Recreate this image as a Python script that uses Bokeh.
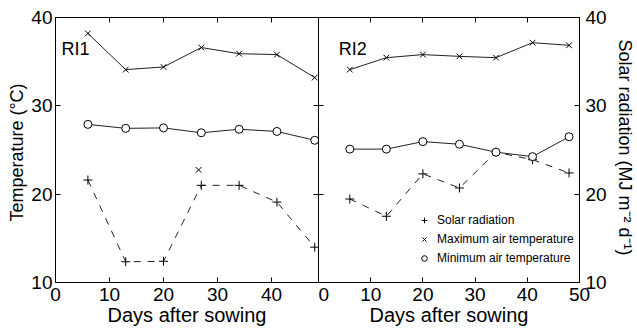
from bokeh.plotting import figure
from bokeh.models import LinearAxis, Range1d, FixedTicker, Label, Legend, LegendItem
from bokeh.layouts import row
from bokeh.embed import file_html
from bokeh.resources import INLINE

days = [6, 13, 20, 27, 34, 41, 48]

# RI1
ri1_max = [38.2, 34.1, 34.4, 36.6, 35.9, 35.8, 33.2]
ri1_min = [27.9, 27.45, 27.5, 26.95, 27.35, 27.1, 26.1]
ri1_solar = [21.6, 12.35, 12.4, 21.0, 21.0, 19.1, 14.0]
ri1_stray_x = [26.5]
ri1_stray_y = [22.75]

# RI2
ri2_max = [34.1, 35.45, 35.8, 35.6, 35.45, 37.15, 36.85]
ri2_min = [25.1, 25.1, 25.95, 25.65, 24.75, 24.25, 26.5]
ri2_solar = [19.45, 17.5, 22.3, 20.7, 24.75, 23.9, 22.4]

x_ticks = [0, 10, 20, 30, 40, 50]
y_ticks = [10, 20, 30, 40]

FONT = "Liberation Sans"
TICK_FS = "19px"
LC = "#222222"


def style_axis(ax, labels=True):
    ax.ticker = FixedTicker(ticks=y_ticks if ax.dimension == 1 else x_ticks)
    ax.major_tick_in = 5
    ax.major_tick_out = 0
    ax.minor_tick_in = 0
    ax.minor_tick_out = 0
    ax.axis_line_color = "black"
    ax.axis_line_width = 1
    ax.major_tick_line_color = "black"
    ax.major_label_text_font = FONT
    ax.axis_label_text_font = FONT
    ax.axis_label_text_font_style = "normal"
    ax.axis_label_text_color = "black"
    if labels:
        ax.major_label_text_color = "black"
        ax.major_label_text_font_size = TICK_FS
    else:
        ax.major_label_text_color = None
        ax.major_label_text_font_size = "1px"
        ax.major_label_standoff = 0


def make_panel(xmax, width, mb_left, mb_right):
    p = figure(width=width, height=330, output_backend="svg", toolbar_location=None,
               x_range=Range1d(0, xmax), y_range=Range1d(10, 40),
               min_border_left=mb_left, min_border_right=mb_right,
               min_border_top=17, min_border_bottom=48)
    p.grid.visible = False
    p.background_fill_color = "white"
    p.border_fill_color = "white"
    xa = p.xaxis[0]
    style_axis(xa, True)
    xa.axis_label = "Days after sowing"
    xa.axis_label_text_font_size = "20px"
    xa.major_label_standoff = 5
    xa.axis_label_standoff = 0
    top = LinearAxis()
    p.add_layout(top, "above")
    style_axis(top, False)
    right = LinearAxis()
    p.add_layout(right, "right")
    return p, right


def draw(p, mx, mn, sol):
    p.line(days, mx, line_color=LC, line_width=1)
    p.line(days, mn, line_color=LC, line_width=1)
    p.line(days, sol, line_color=LC, line_width=1, line_dash="7 7")
    r_sol = p.scatter(days, sol, marker="cross", size=9, line_color="black", line_width=1)
    r_max = p.scatter(days, mx, marker="x", size=8, line_color="black", line_width=1)
    r_min = p.scatter(days, mn, marker="circle", size=8, line_color="black",
                      fill_color="white", line_width=1)
    return r_sol, r_max, r_min


# ---- left panel (RI1) ----
p1, r1 = make_panel(48.7, 318, 55, 0)
p1.outline_line_color = None
ya1 = p1.yaxis[0]
style_axis(ya1, True)
ya1.axis_label = "Temperature  (°C)"
ya1.axis_label_text_font_size = "18px"
ya1.major_label_standoff = 3
ya1.axis_label_standoff = 1
style_axis(r1, False)
r1.axis_line_color = None
draw(p1, ri1_max, ri1_min, ri1_solar)
p1.scatter(ri1_stray_x, ri1_stray_y, marker="x", size=8, line_color="black", line_width=1)
p1.add_layout(Label(x=1.1, y=36.4, text="RI1", text_font=FONT, text_font_size="18px",
                    text_baseline="middle", text_color="black"))

# ---- right panel (RI2) ----
p2, r2 = make_panel(50, 319, 0, 52)
p2.outline_line_color = "black"
ya2 = p2.yaxis[0]
style_axis(ya2, False)
style_axis(r2, True)
r2.axis_label = "Solar radiation  (MJ m⁻² d⁻¹)"
r2.axis_label_text_font_size = "18px"
r2.major_label_standoff = 6
r2.axis_label_standoff = 5
rs, rx, rn = draw(p2, ri2_max, ri2_min, ri2_solar)
p2.add_layout(Label(x=3.9, y=36.4, text="RI2", text_font=FONT, text_font_size="18px",
                    text_baseline="middle", text_color="black"))

leg = Legend(items=[LegendItem(label="Solar radiation", renderers=[rs]),
                    LegendItem(label="Maximum air temperature", renderers=[rx]),
                    LegendItem(label="Minimum air temperature", renderers=[rn])],
             location=(97, 14))
leg.label_text_font = FONT
leg.label_text_font_size = "12px"
leg.label_text_color = "black"
leg.label_height = 16
leg.glyph_height = 14
leg.glyph_width = 14
leg.spacing = 3
leg.padding = 2
leg.margin = 0
leg.label_standoff = 6
leg.border_line_alpha = 0
leg.background_fill_alpha = 0
p2.add_layout(leg)

layout = row(p1, p2, spacing=0)
open("out.html", "w").write(file_html(layout, INLINE))
